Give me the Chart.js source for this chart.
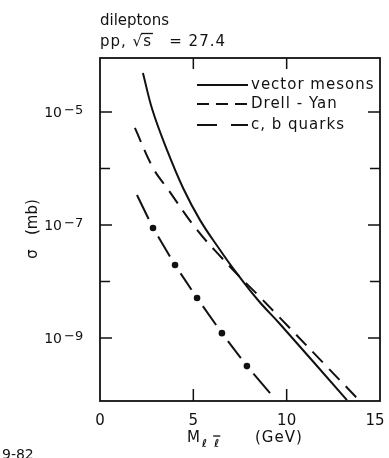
<!DOCTYPE html>
<html>
<head>
<meta charset="utf-8">
<script src="https://cdn.jsdelivr.net/npm/chart.js@4.4.1/dist/chart.umd.min.js"></script>
<style>
  html, body { margin: 0; padding: 0; background: #fff; }
  #wrap { width: 389px; height: 458px; overflow: hidden; }
</style>
</head>
<body>
<div id="wrap"><canvas id="chart" width="389" height="458"></canvas></div>
<script>
// values (mass in GeV, sigma in mb)
const vmMass = [2.30, 2.81, 3.59, 4.45, 5.36, 6.43, 7.12, 8.46, 9.64, 13.23];
const vmSigma = [4.9e-5, 1.08e-5, 2.12e-6, 4.52e-7, 1.22e-7, 3.61e-8, 1.73e-8, 4.71e-9, 1.77e-9, 8.0e-11];

const dyMass = [1.87, 2.84, 3.59, 5.20, 6.53, 7.66, 8.41, 13.77];
const dySigma = [5.21e-6, 1.02e-6, 4.52e-7, 8.17e-8, 2.61e-8, 1.06e-8, 6.01e-9, 8.67e-11];

const cbMass = [1.98, 2.84, 4.02, 5.20, 6.53, 7.87, 9.11];
const cbSigma = [3.40e-7, 8.85e-8, 1.96e-8, 5.11e-9, 1.22e-9, 3.19e-10, 1.06e-10];

const seriesNames = ["vector mesons", "Drell - Yan", "c, b quarks"];

const massTicks = [0, 5, 10, 15];
const massTickLabels = ["0", "5", "10", "15"];
const sigmaTicks = [1e-9, 1e-8, 1e-7, 1e-6, 1e-5];
const sigmaTickExps = ["-9", "", "-7", "", "-5"]; // blank = minor tick

const sigmaMin = 7.7e-11;
const sigmaMax = 9.0e-5;

const ink = "#111";
const font = "'DejaVu Sans', sans-serif";

function pts(xs, ys) {
  return xs.map((m, i) => ({ x: m, y: ys[i] }));
}

// dot - gap - dash - gap - dot pattern for the c,b curve
function cbDash(c) {
  const L = Math.hypot(c.p1.x - c.p0.x, c.p1.y - c.p0.y);
  const g = 10;
  const last = cbMass.length - 1;
  if (c.p0DataIndex === 0) return { dash: [L - g, 2 * g], offset: 0 };
  if (c.p1DataIndex === last) return { dash: [L - g, 2 * g], offset: L };
  const d = Math.max(1, L - 2 * g);
  return { dash: [d, 2 * g], offset: d + g };
}

const paperPlugin = {
  id: "paper",
  afterDatasetsDraw(chart) {
    const { ctx, chartArea: a, scales } = chart;
    const xs = scales.x, ys = scales.y;
    ctx.save();
    ctx.strokeStyle = ink;
    ctx.fillStyle = ink;
    ctx.setLineDash([]);

    // frame
    ctx.lineWidth = 1.8;
    ctx.strokeRect(a.left, a.top, a.right - a.left, a.bottom - a.top);

    // inward ticks
    ctx.lineWidth = 1.5;
    sigmaTicks.forEach((v, i) => {
      const py = ys.getPixelForValue(v);
      const len = sigmaTickExps[i] ? 12 : 10;
      ctx.beginPath();
      ctx.moveTo(a.left, py); ctx.lineTo(a.left + len, py);
      ctx.moveTo(a.right, py); ctx.lineTo(a.right - len, py);
      ctx.stroke();
    });
    massTicks.slice(1, -1).forEach((v) => {
      const px = xs.getPixelForValue(v);
      ctx.beginPath();
      ctx.moveTo(px, a.bottom); ctx.lineTo(px, a.bottom - 12);
      ctx.moveTo(px, a.top); ctx.lineTo(px, a.top + 11);
      ctx.stroke();
    });

    // y tick labels 10^n
    ctx.textBaseline = "middle";
    sigmaTicks.forEach((v, i) => {
      if (!sigmaTickExps[i]) return;
      const py = ys.getPixelForValue(v);
      ctx.font = "14px " + font;
      ctx.textAlign = "right";
      ctx.fillText("10", a.left - 38, py + 1);
      ctx.font = "13px " + font;
      ctx.textAlign = "left";
      ctx.fillText(sigmaTickExps[i].replace("-", "\u2212"), a.left - 36, py - 1);
    });

    // x tick labels
    ctx.font = "15px " + font;
    ctx.textAlign = "center";
    massTicks.forEach((v, i) => {
      const px = xs.getPixelForValue(v);
      ctx.fillText(massTickLabels[i], i === massTicks.length - 1 ? px - 5 : px, a.bottom + 20);
    });

    // x axis title: M_{l lbar}  (GeV)
    ctx.textAlign = "left";
    ctx.textBaseline = "alphabetic";
    ctx.font = "15px " + font;
    ctx.fillText("M", 187, 442);
    const mW = ctx.measureText("M").width;
    ctx.font = "bold 11px " + font;
    const sx = 187 + mW + 2;
    ctx.fillText("\u2113", sx, 447);
    const lW = ctx.measureText("\u2113").width;
    const sx2 = sx + lW + 7;
    ctx.fillText("\u2113", sx2, 447);
    ctx.lineWidth = 1.3;
    ctx.beginPath();
    ctx.moveTo(sx2 - 1, 436); ctx.lineTo(sx2 + lW + 1, 436);
    ctx.stroke();
    ctx.font = "15px " + font;
    ctx.letterSpacing = "1px";
    ctx.fillText("(GeV)", 255, 442);
    ctx.letterSpacing = "0px";

    // y axis title
    ctx.save();
    ctx.translate(33, 229);
    ctx.rotate(-Math.PI / 2);
    ctx.textAlign = "center";
    ctx.textBaseline = "middle";
    ctx.font = "15px " + font;
    ctx.fillText("\u03c3   (mb)", 0, 0);
    ctx.restore();

    // title
    ctx.font = "15px " + font;
    ctx.textAlign = "left";
    ctx.fillText("dileptons", 100, 25);
    ctx.letterSpacing = "1px";
    const t1 = "pp, \u221a";
    ctx.fillText(t1 + "s   = 27.4", 100, 46);
    const w1 = ctx.measureText(t1).width;
    const ws = ctx.measureText("s").width;
    ctx.letterSpacing = "0px";
    ctx.lineWidth = 1.3;
    ctx.beginPath();
    ctx.moveTo(100 + w1 - 2, 33.5); ctx.lineTo(100 + w1 + ws + 1, 33.5);
    ctx.stroke();

    // legend
    const rows = [85, 104, 125];
    const dashes = [[], [12, 7], [20, 14]];
    ctx.font = "15px " + font;
    ctx.textBaseline = "middle";
    rows.forEach((ry, i) => {
      ctx.lineWidth = 2;
      ctx.setLineDash(dashes[i]);
      ctx.beginPath();
      ctx.moveTo(197, ry); ctx.lineTo(248, ry);
      ctx.stroke();
      ctx.setLineDash([]);
      ctx.letterSpacing = "1px";
      ctx.fillText(seriesNames[i], 251, ry);
      ctx.letterSpacing = "0px";
    });

    // plate number
    ctx.font = "14px " + font;
    ctx.textBaseline = "alphabetic";
    ctx.fillText("9-82", 2, 459);

    ctx.restore();
  },
};

new Chart(document.getElementById("chart"), {
  type: "line",
  data: {
    datasets: [
      {
        label: seriesNames[0],
        data: pts(vmMass, vmSigma),
        borderColor: ink,
        borderWidth: 2,
        pointRadius: 0,
        tension: 0.4,
        fill: false,
      },
      {
        label: seriesNames[1],
        data: pts(dyMass, dySigma),
        borderColor: ink,
        borderWidth: 2,
        borderDash: [15, 9],
        pointRadius: 0,
        tension: 0.4,
        fill: false,
      },
      {
        label: seriesNames[2],
        data: pts(cbMass, cbSigma),
        borderColor: ink,
        borderWidth: 2,
        pointRadius: (c) => (c.dataIndex === 0 || c.dataIndex === cbMass.length - 1 ? 0 : 3.3),
        pointBackgroundColor: ink,
        pointBorderWidth: 0,
        fill: false,
        segment: {
          borderDash: (c) => cbDash(c).dash,
          borderDashOffset: (c) => cbDash(c).offset,
        },
      },
    ],
  },
  options: {
    responsive: false,
    animation: false,
    devicePixelRatio: 1,
    layout: { padding: { left: 100, right: 9, top: 58, bottom: 57 } },
    plugins: { legend: { display: false }, tooltip: { enabled: false } },
    scales: {
      x: { type: "linear", display: false, min: 0, max: 15 },
      y: { type: "logarithmic", display: false, min: sigmaMin, max: sigmaMax },
    },
  },
  plugins: [paperPlugin],
});
</script>
</body>
</html>
